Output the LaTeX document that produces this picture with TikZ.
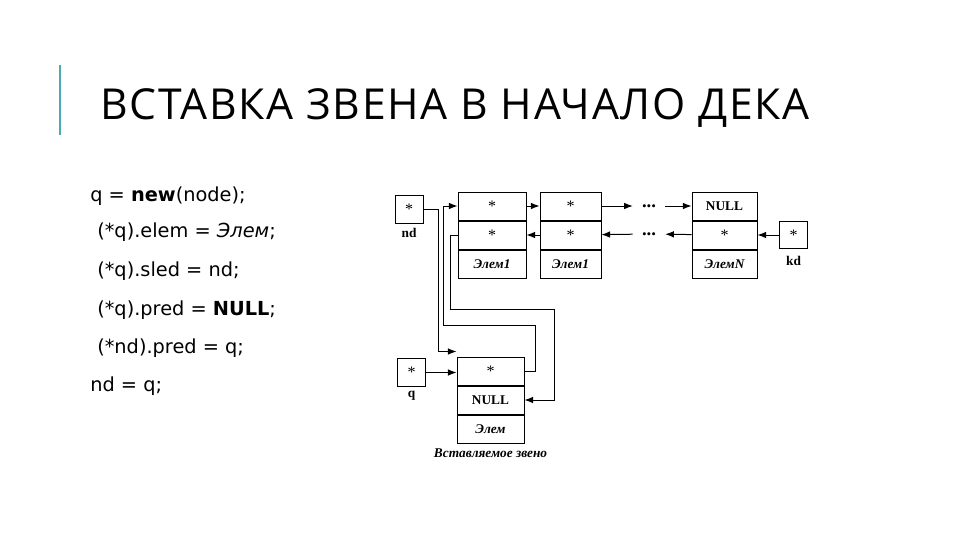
\documentclass[tikz,border=0pt]{standalone}
\usepackage{fontspec}
\setmainfont{Liberation Serif}
\newfontfamily\titlefont[LetterSpace=4]{Open Sans}
\newfontfamily\codefont{DejaVu Sans}
\usetikzlibrary{positioning, arrows.meta, calc}
\definecolor{barcol}{RGB}{75, 172, 182}
\tikzset{
  cell/.style={draw, line width=0.75pt, minimum height=21pt, inner sep=0pt,
               font=\fontsize{12}{13}\selectfont},
  txtcell/.style={cell, font=\fontsize{10}{11}\selectfont\bfseries},
  valcell/.style={cell, font=\fontsize{10}{11}\selectfont\bfseries\itshape},
  ptrbox/.style={draw, line width=0.75pt, minimum width=21pt, minimum height=20.5pt,
                 inner sep=0pt, font=\fontsize{12}{13}\selectfont},
  ptrname/.style={inner sep=0pt, font=\fontsize{10}{11}\selectfont\bfseries},
  dotsnode/.style={minimum width=24pt, inner sep=0pt, font=\fontsize{14}{15}\selectfont\bfseries},
  link/.style={-{Latex[length=6.5pt, width=5pt]}, line width=0.75pt},
  codeline/.style={anchor=base west, inner sep=0pt, font=\codefont\fontsize{14.5}{17}\selectfont},
}

\begin{document}
\begin{tikzpicture}[x=0.75pt, y=-0.75pt]
  \useasboundingbox (0,0) rectangle (960,540);
  \fill[white] (0,0) rectangle (960,540);

  % title
  \draw[barcol, line width=1.5pt] (60,65) -- (60,135);
  \node[anchor=base west, inner sep=0pt, font=\titlefont\fontsize{32}{36}\selectfont]
    (title) at (100,119) {ВСТАВКА ЗВЕНА В НАЧАЛО ДЕКА};

  % code
  \node[codeline] (c1) at (90,201) {q = \textbf{new}(node);};
  \node[codeline] (c2) at (97,237) {(*q).elem = \textit{Элем};};
  \node[codeline] (c3) at (97,276) {(*q).sled = nd;};
  \node[codeline] (c4) at (97,315) {(*q).pred = \textbf{NULL};};
  \node[codeline] (c5) at (97,353) {(*nd).pred = q;};
  \node[codeline] (c6) at (90,391) {nd = q;};

  % list elements
  \node[cell, minimum width=51pt] (e1s) at (492,206) {*};
  \node[cell, minimum width=51pt, below=0pt of e1s] (e1p) {*};
  \node[valcell, minimum width=51pt, below=0pt of e1p] (e1v) {Элем1};

  \node[cell, minimum width=45.75pt] (e2s) at (570.5,206) {*};
  \node[cell, minimum width=45.75pt, below=0pt of e2s] (e2p) {*};
  \node[valcell, minimum width=45.75pt, below=0pt of e2p] (e2v) {Элем1};

  \node[txtcell, minimum width=48.75pt] (eNs) at (724.5,206) {NULL};
  \node[cell, minimum width=48.75pt, below=0pt of eNs] (eNp) {*};
  \node[valcell, minimum width=48.75pt, below=0pt of eNp] (eNv) {ЭлемN};

  \node[dotsnode] (dt) at (649,206) {...};
  \node[dotsnode] (db) at (649,234) {...};

  % inserted element
  \node[cell, minimum width=50.25pt] (ns) at (490.5,371) {*};
  \node[txtcell, minimum width=50.25pt, below=0pt of ns] (nn) {NULL};
  \node[valcell, minimum width=50.25pt, below=0pt of nn] (nv) {Элем};
  \node[ptrname, font=\fontsize{10}{11}\selectfont\bfseries\itshape, below=4pt of nv] (cap) {Вставляемое звено};

  % pointers
  \node[ptrbox] (nd) at (409,209.5) {*};
  \node[ptrname, below=3pt of nd] (ndname) {nd};
  \node[ptrbox] (kd) at (793.5,235) {*};
  \node[ptrname, below=5pt of kd] (kdname) {kd};
  \node[ptrbox] (q) at (411.5,372.5) {*};
  \node[ptrname, below=3pt of q] (qname) {q};

  % links
  \draw[link] (e1s) -- (e2s);
  \draw[link] (e2p) -- (e1p);
  \draw[link] (e2s) -- (dt);
  \draw[link] (dt) -- (eNs);
  \draw[link] (eNp) -- (db);
  \draw[link] (db) -- (e2p);
  \draw[link] (kd.west) -- (kd.west -| eNp.east);
  \draw[link] (q.east) -- (q.east -| ns.west);

  \draw[link] (nd.east) -- ++(15,0) |- ($(ns.north west)+(0,-5)$);
  \draw[link] (ns.east) -- ++(11,0) |- (443,325) |- (e1s.west);
  \draw[link] (e1p.west) -- ++(-7,0) |- (554,309) |- (nn.east);
\end{tikzpicture}
\end{document}
